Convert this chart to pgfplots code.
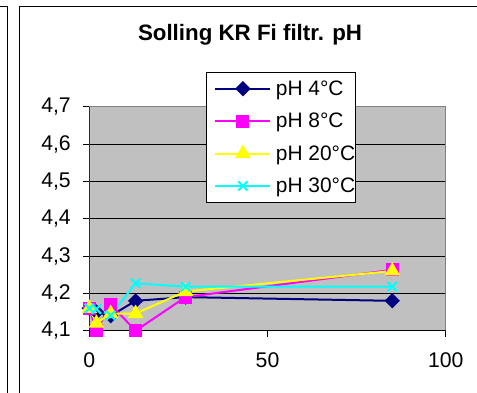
\documentclass[border=0pt]{standalone}
\usepackage{fontspec}
\setmainfont{Liberation Sans}
\usepackage{pgfplots}
\pgfplotsset{compat=1.18}
\definecolor{plotgray}{HTML}{C0C0C0}
\definecolor{navyc}{HTML}{000080}
\definecolor{magc}{HTML}{FF00FF}
\definecolor{yelc}{HTML}{FFFF00}
\definecolor{cyac}{HTML}{00FFFF}
\definecolor{bordergray}{HTML}{808080}
\begin{document}
\begin{tikzpicture}[x=1bp,y=1bp]
\path[use as bounding box] (0,0) rectangle (477,392);
\draw[black, line width=1bp] (0,385.3) -- (7.3,385.3) -- (7.3,-5);
\draw[black, line width=1bp] (19.7,-5) -- (19.7,385.3) -- (480,385.3);
\node[font=\bfseries\fontsize{22.4}{26}\selectfont] at (250,357) {Solling KR Fi filtr. pH};
\begin{axis}[
  at={(89.3bp,61.3bp)}, anchor=south west,
  scale only axis, width=356.4bp, height=224bp,
  xmin=0, xmax=100, ymin=4.1, ymax=4.7,
  xtick={0,50,100},
  ytick={4.1,4.2,4.3,4.4,4.5,4.6,4.7},
  tick pos=left, tick align=outside,
  major tick length=6bp,
  tick style={black, line width=0.8bp},
  ymajorgrids, major grid style={black, line width=0.8bp},
  axis background/.style={fill=plotgray},
  axis line style={draw=bordergray, line width=1bp},
  ticklabel style={font=\fontsize{21.3}{26}\selectfont},
  /pgf/number format/assume math mode=true,
  yticklabel shift=9bp,
  xticklabel shift=12bp,
  yticklabel style={/pgf/number format/.cd, use comma, fixed, fixed zerofill, precision=1},
  xticklabel style={/pgf/number format/.cd, fixed, precision=0},
  legend style={at={(0.3274,1.1536)}, anchor=north west, draw=black, fill=white,
    line width=0.8bp,
    font=\fontsize{21}{25}\selectfont, row sep=12.3bp, inner xsep=0bp, inner ysep=6bp,
    cells={anchor=west}, nodes={inner xsep=0bp, inner ysep=2pt}},
  legend image code/.code={\path[draw=none,fill=none] (-9bp,0bp) rectangle (60.5bp,0.1bp);\draw[mark repeat=2,mark phase=2] plot coordinates {(0bp,0bp) (27.5bp,0bp) (55bp,0bp)};},
  every axis plot/.append style={line width=2bp},
]
\draw[black, line width=1bp] (rel axis cs:0,0) -- (rel axis cs:0,1);
\draw[black, line width=1bp] (rel axis cs:0,0) -- (rel axis cs:1,0);
\addplot[navyc, mark=square*, mark size=4.4bp, mark options={fill=navyc, rotate=45}] coordinates {
(0,4.16) (2,4.15) (6,4.14) (13,4.18) (27,4.19) (85,4.18)};
\addlegendentry{pH 4°C}
\addplot[magc, mark=square*, mark size=5.5bp, mark options={fill=magc}] coordinates {
(0,4.16) (2,4.10) (6,4.17) (13,4.10) (27,4.19) (85,4.263)};
\addlegendentry{pH 8°C}
\addplot[yelc, mark=triangle*, mark size=7bp, mark options={fill=yelc}] coordinates {
(0,4.16) (2,4.12) (6,4.146) (13,4.146) (27,4.205) (85,4.26)};
\addlegendentry{pH 20°C}
\addplot[cyac, mark=x, mark size=6.5bp] coordinates {
(0,4.16) (2,4.158) (6,4.141) (13,4.227) (27,4.218) (85,4.218)};
\addlegendentry{pH 30°C\hspace{3.5bp}}
\end{axis}
\end{tikzpicture}
\end{document}
